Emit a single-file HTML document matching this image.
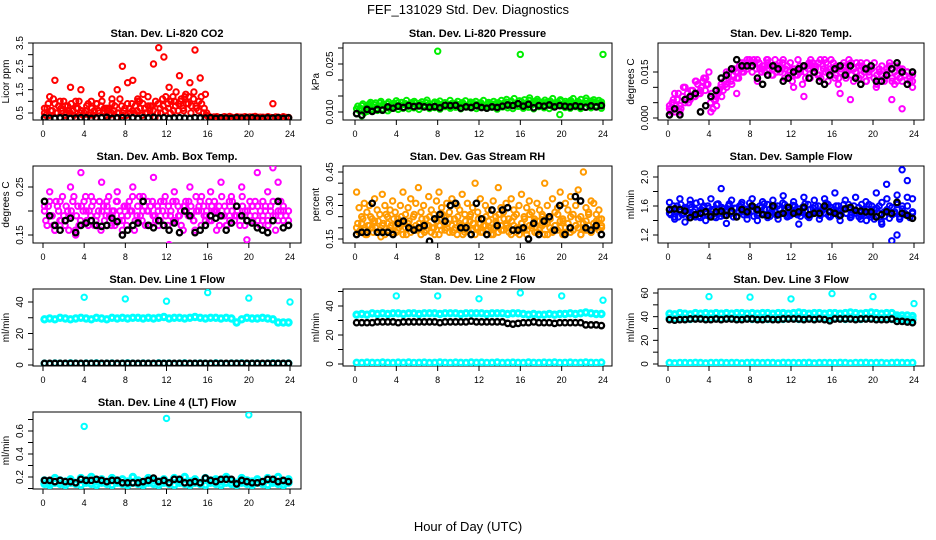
<!DOCTYPE html>
<html><head><meta charset="utf-8"><style>
html,body{margin:0;padding:0;background:#fff;width:936px;height:540px;overflow:hidden}
svg{display:block;font-family:"Liberation Sans",sans-serif}
</style></head><body>
<svg id="chart" width="936" height="540" viewBox="0 0 936 540">
<text x="468" y="14" text-anchor="middle" font-size="13">FEF_131029  Std. Dev. Diagnostics</text>
<text x="468" y="531" text-anchor="middle" font-size="13">Hour of Day (UTC)</text>
</svg>
<script>
// ---------- data ----------
const xTicks = [0,4,8,12,16,20,24];
// CO2
const co2Main = [0.5,0.7,0.4,0.6,0.9,0.5,0.3,0.6,0.4,0.8,0.5,0.6,0.3,0.7,0.5,0.4,0.6,0.9,0.5,0.4,0.3,0.6,0.8,0.5,0.4,0.7,0.5,0.6,0.3,0.5,0.8,0.6,0.4,0.7,0.9,0.5,0.6,1.0,0.4,0.7,0.5,0.6,0.8,0.3,0.5,0.7,1.1,0.6,0.9,0.5,1.2,0.8,0.6,1.0,0.7,1.3,0.9,0.5,1.1,0.8,0.6,1.2,0.5,0.4,0.32,0.3,0.33,0.29,0.31,0.3,0.34,0.32,0.3,0.31,0.29,0.33,0.3,0.32,0.31,0.3,0.33,0.3,0.31,0.29,0.32,0.3,0.31,0.33,0.3,0.29,0.32,0.31,0.3,0.33,0.3,0.31];
const co2Extra = [0.4,0.9,0.6,1.1,0.5,0.8,0.7,1.0,0.5,0.6,0.9,0.4,0.7,1.0,0.6,0.5,0.8,0.4,0.7,0.6,0.9,0.5,1.0,0.7,0.6,0.4,0.9,0.8,0.5,1.1,0.4,0.7,0.9,0.5,0.6,0.8,1.1,0.7,0.9,0.5,1.2,0.8,0.6,1.0,0.9,0.5,0.8,1.2,0.7,1.0,0.6,1.4,0.9,1.1,0.6,0.9,1.2,0.8,1.4,0.7,1.0,0.9,0.7,0.5,0.35,0.3,0.32,0.34,0.3,0.31,0.33,0.3,0.35,0.31,0.3,0.33,0.32,0.3,0.34,0.31,0.3,0.33,0.35,0.3,0.31,0.32,0.3,0.34,0.31,0.3,0.33,0.32,0.3,0.34,0.31,0.3];
const co2Scatter = [0.7,1.2,1.9,1.0,0.8,1.6,1.0,1.5,0.6,1.0,0.9,1.3,0.7,1.1,1.5,2.5,1.8,1.9,1.0,1.3,0.8,2.6,3.3,2.9,1.6,1.0,2.1,1.2,1.8,3.2,2.0,1.3,0.3,0.32,0.3,0.31,0.3,0.33,0.3,0.31,0.3,0.32,0.3,0.31,0.9,0.3,0.32,0.3];
const co2Black = [0.3,0.28,0.27,0.29,0.3,0.27,0.28,0.3,0.29,0.27,0.28,0.3,0.31,0.27,0.29,0.3,0.28,0.3,0.27,0.3,0.29,0.31,0.28,0.3,0.27,0.29,0.3,0.28,0.27,0.3,0.29,0.28,0.3,0.27,0.29,0.28,0.27,0.3,0.28,0.29,0.3,0.28,0.27,0.29,0.28,0.3,0.27,0.29];
// Pressure
const presMain = [0.011,0.0105,0.012,0.0098,0.0115,0.0125,0.0108,0.0122,0.0112,0.0128,0.0105,0.0118,0.0125,0.011,0.0122,0.0115,0.0128,0.012,0.0112,0.0126,0.0118,0.0124,0.0115,0.0128,0.012,0.0125,0.0117,0.0129,0.0122,0.0115,0.0127,0.012,0.0124,0.0118,0.0128,0.0122,0.0116,0.0127,0.012,0.0124,0.0118,0.0129,0.0122,0.0116,0.0126,0.012,0.0125,0.0118,0.0128,0.0122,0.0116,0.0126,0.012,0.0124,0.0118,0.0129,0.0123,0.0117,0.0131,0.012,0.0134,0.0122,0.0128,0.0118,0.0132,0.0124,0.0119,0.0136,0.0122,0.0128,0.0133,0.0118,0.0126,0.0121,0.0131,0.0124,0.0118,0.0128,0.0122,0.0134,0.0119,0.0127,0.0122,0.013,0.0118,0.0126,0.0133,0.0121,0.0128,0.0135,0.0122,0.0127,0.0131,0.012,0.0128,0.0124];
const presExtra = [0.0118,0.0112,0.0125,0.0108,0.0122,0.013,0.0115,0.0128,0.0119,0.0133,0.0124,0.0114,0.0131,0.0121,0.0127,0.0135,0.0117,0.013,0.0124,0.0136,0.0121,0.0129,0.0133,0.0118,0.0127,0.0132,0.0122,0.0137,0.0125,0.0119,0.0131,0.0128,0.0134,0.0121,0.0129,0.0124,0.0136,0.0119,0.0127,0.0133,0.0122,0.0128,0.0135,0.012,0.0131,0.0126,0.0133,0.0122,0.0129,0.0136,0.0121,0.013,0.0125,0.0133,0.0127,0.0121,0.0136,0.0128,0.0139,0.0124,0.0131,0.0142,0.0126,0.0135,0.0121,0.0138,0.0129,0.0144,0.0125,0.0133,0.0139,0.0124,0.0131,0.0137,0.0127,0.0134,0.0142,0.0123,0.013,0.0138,0.0125,0.0133,0.0129,0.0136,0.0142,0.0124,0.0131,0.0139,0.0127,0.0143,0.0125,0.0134,0.0138,0.0129,0.0136,0.0131];
const presLow = [0.0095,0.0088,0.0102,0.0108,0.0105,0.011,0.0104,0.0112,0.0108,0.0115,0.011,0.0113,0.0108,0.0116,0.0111,0.0114,0.0109,0.0117,0.0112,0.0115,0.011,0.0116,0.0113,0.0111,0.0117,0.0112,0.0115,0.0109,0.0116,0.0113,0.0111,0.0118,0.0112,0.0115,0.011,0.0117,0.0113,0.0111,0.0116,0.0092,0.0114,0.0112,0.0117,0.0111,0.0115,0.0113,0.0116,0.0112];
const presOutHours = [8,16,24];
const presOutVals = [0.029,0.028,0.028];
const presBlack = [0.0095,0.009,0.0108,0.0102,0.0108,0.0106,0.0116,0.0112,0.0118,0.0114,0.012,0.0117,0.0119,0.0116,0.0115,0.0117,0.0113,0.0121,0.012,0.0121,0.0112,0.0116,0.0114,0.012,0.0114,0.0112,0.0116,0.0114,0.0118,0.0122,0.012,0.0126,0.0118,0.0124,0.0113,0.012,0.0118,0.0122,0.0116,0.012,0.0118,0.0116,0.0119,0.0117,0.0115,0.0119,0.0116,0.012];
// Li-820 temp
const tempMain = [0.003,0.005,0.002,0.006,0.004,0.007,0.005,0.008,0.006,0.009,0.007,0.011,0.008,0.012,0.009,0.011,0.005,0.003,0.006,0.008,0.01,0.009,0.011,0.013,0.012,0.014,0.015,0.013,0.016,0.015,0.017,0.018,0.017,0.019,0.016,0.018,0.015,0.017,0.019,0.016,0.014,0.017,0.015,0.018,0.016,0.013,0.017,0.015,0.012,0.016,0.014,0.017,0.011,0.015,0.017,0.013,0.018,0.016,0.014,0.019,0.017,0.015,0.012,0.016,0.018,0.014,0.011,0.015,0.017,0.013,0.016,0.018,0.012,0.015,0.017,0.014,0.016,0.012,0.015,0.017,0.013,0.011,0.016,0.014,0.012,0.015,0.017,0.013,0.011,0.014,0.016,0.012,0.014,0.011,0.013,0.012];
const tempExtra = [0.002,0.006,0.004,0.008,0.003,0.01,0.006,0.005,0.009,0.007,0.012,0.008,0.01,0.013,0.011,0.015,0.008,0.006,0.004,0.009,0.007,0.012,0.01,0.015,0.011,0.016,0.013,0.017,0.015,0.018,0.016,0.019,0.015,0.018,0.019,0.016,0.017,0.015,0.018,0.017,0.016,0.019,0.017,0.015,0.018,0.016,0.014,0.018,0.016,0.014,0.019,0.015,0.017,0.013,0.016,0.019,0.015,0.017,0.018,0.013,0.016,0.018,0.015,0.019,0.016,0.017,0.013,0.016,0.018,0.015,0.019,0.014,0.016,0.018,0.013,0.017,0.015,0.018,0.014,0.016,0.018,0.014,0.015,0.017,0.013,0.016,0.018,0.012,0.015,0.017,0.013,0.016,0.014,0.015,0.012,0.014];
const tempScatter = [0.004,0.008,0.002,0.01,0.006,0.012,0.009,0.013,0.002,0.007,0.011,0.015,0.016,0.008,0.018,0.019,0.018,0.012,0.016,0.019,0.014,0.017,0.019,0.013,0.01,0.015,0.007,0.018,0.017,0.014,0.019,0.016,0.013,0.008,0.017,0.006,0.015,0.018,0.012,0.016,0.01,0.014,0.016,0.006,0.012,0.003,0.015,0.01];
const tempBlack = [0.001,0.003,0.001,0.006,0.007,0.008,0.002,0.004,0.007,0.009,0.013,0.014,0.016,0.019,0.017,0.017,0.017,0.013,0.011,0.014,0.017,0.016,0.012,0.013,0.015,0.016,0.017,0.013,0.015,0.012,0.011,0.014,0.016,0.017,0.014,0.017,0.013,0.011,0.016,0.017,0.012,0.012,0.014,0.016,0.018,0.015,0.011,0.015];
// Amb box temp
const ambMain = [0.2,0.17,0.22,0.19,0.16,0.21,0.18,0.23,0.17,0.2,0.19,0.22,0.16,0.21,0.18,0.2,0.23,0.17,0.19,0.22,0.18,0.2,0.16,0.21,0.19,0.23,0.17,0.2,0.22,0.18,0.19,0.21,0.17,0.22,0.2,0.16,0.19,0.23,0.18,0.21,0.2,0.17,0.22,0.19,0.21,0.18,0.2,0.23,0.17,0.19,0.22,0.18,0.21,0.2,0.16,0.22,0.19,0.21,0.18,0.23,0.2,0.17,0.21,0.19,0.22,0.18,0.2,0.16,0.21,0.23,0.19,0.17,0.22,0.2,0.18,0.21,0.19,0.23,0.17,0.2,0.22,0.18,0.19,0.21,0.17,0.22,0.2,0.18,0.21,0.19,0.16,0.2,0.22,0.18,0.19,0.2];
const ambExtra = [0.18,0.21,0.19,0.17,0.22,0.2,0.18,0.19,0.21,0.16,0.2,0.23,0.19,0.17,0.21,0.22,0.18,0.2,0.21,0.17,0.19,0.22,0.2,0.18,0.21,0.19,0.2,0.17,0.22,0.2,0.18,0.21,0.19,0.2,0.23,0.18,0.21,0.19,0.2,0.17,0.22,0.21,0.19,0.18,0.2,0.22,0.17,0.19,0.21,0.2,0.18,0.22,0.19,0.17,0.21,0.2,0.22,0.19,0.18,0.2,0.21,0.23,0.19,0.2,0.18,0.21,0.22,0.2,0.17,0.19,0.21,0.2,0.18,0.22,0.19,0.2,0.17,0.21,0.2,0.18,0.19,0.21,0.22,0.18,0.2,0.19,0.21,0.17,0.2,0.22,0.19,0.18,0.2,0.21,0.19,0.18];
const ambScatter = [0.21,0.24,0.16,0.22,0.18,0.25,0.15,0.28,0.2,0.23,0.17,0.26,0.22,0.19,0.24,0.16,0.21,0.25,0.18,0.23,0.2,0.27,0.17,0.22,0.13,0.24,0.19,0.21,0.25,0.16,0.22,0.18,0.24,0.2,0.26,0.17,0.23,0.19,0.25,0.14,0.21,0.28,0.18,0.24,0.29,0.26,0.2,0.17];
const ambBlack = [0.22,0.19,0.17,0.16,0.18,0.185,0.155,0.17,0.175,0.18,0.17,0.168,0.17,0.185,0.178,0.15,0.16,0.17,0.175,0.22,0.17,0.165,0.18,0.17,0.16,0.175,0.155,0.2,0.19,0.155,0.16,0.17,0.19,0.185,0.19,0.16,0.175,0.21,0.19,0.18,0.175,0.165,0.16,0.155,0.18,0.22,0.165,0.17];
// Gas stream RH
const rhMain = [0.2,0.18,0.22,0.19,0.17,0.21,0.2,0.23,0.18,0.19,0.21,0.17,0.22,0.2,0.18,0.21,0.19,0.23,0.17,0.2,0.22,0.18,0.19,0.21,0.2,0.17,0.22,0.19,0.21,0.18,0.2,0.23,0.17,0.19,0.22,0.2,0.18,0.21,0.19,0.17,0.22,0.2,0.18,0.21,0.23,0.19,0.17,0.2,0.22,0.18,0.21,0.19,0.2,0.17,0.23,0.18,0.21,0.19,0.22,0.2,0.17,0.21,0.18,0.2,0.22,0.19,0.17,0.21,0.2,0.23,0.18,0.19,0.21,0.17,0.22,0.2,0.18,0.21,0.19,0.23,0.17,0.2,0.22,0.18,0.19,0.21,0.2,0.17,0.22,0.19,0.21,0.18,0.2,0.23,0.19,0.2];
const rhExtra = [0.22,0.19,0.24,0.17,0.21,0.25,0.18,0.2,0.23,0.16,0.22,0.26,0.19,0.21,0.24,0.18,0.2,0.25,0.22,0.17,0.23,0.2,0.26,0.19,0.22,0.24,0.18,0.21,0.25,0.2,0.17,0.23,0.21,0.26,0.19,0.22,0.24,0.18,0.2,0.25,0.21,0.17,0.23,0.19,0.26,0.22,0.2,0.24,0.18,0.21,0.25,0.23,0.17,0.2,0.22,0.26,0.19,0.24,0.21,0.18,0.23,0.25,0.2,0.17,0.22,0.24,0.19,0.26,0.21,0.18,0.23,0.2,0.25,0.22,0.17,0.24,0.19,0.21,0.26,0.2,0.23,0.18,0.22,0.25,0.19,0.21,0.24,0.17,0.2,0.23,0.26,0.18,0.22,0.2,0.24,0.21];
const rhScatter = [0.36,0.29,0.25,0.31,0.27,0.3,0.24,0.33,0.28,0.26,0.35,0.3,0.25,0.28,0.32,0.27,0.24,0.3,0.36,0.26,0.29,0.33,0.25,0.31,0.38,0.27,0.3,0.24,0.34,0.28,0.26,0.32,0.36,0.29,0.25,0.31,0.27,0.33,0.24,0.3,0.28,0.35,0.26,0.31,0.25,0.29,0.4,0.27,0.33,0.24,0.3,0.28,0.26,0.32,0.25,0.38,0.29,0.27,0.31,0.24,0.33,0.28,0.26,0.3,0.35,0.25,0.29,0.32,0.27,0.24,0.31,0.28,0.26,0.4,0.3,0.25,0.33,0.27,0.29,0.36,0.24,0.31,0.28,0.34,0.26,0.3,0.37,0.25,0.45,0.29,0.27,0.32,0.31,0.26,0.28,0.24];
const rhBlack = [0.17,0.18,0.18,0.31,0.18,0.18,0.18,0.17,0.22,0.23,0.2,0.19,0.2,0.21,0.14,0.24,0.26,0.23,0.3,0.31,0.2,0.2,0.17,0.31,0.24,0.17,0.28,0.21,0.28,0.29,0.19,0.19,0.2,0.15,0.22,0.17,0.23,0.25,0.19,0.3,0.17,0.2,0.34,0.32,0.2,0.19,0.21,0.17];
// Sample flow
const sfMain = [1.5,1.55,1.45,1.6,1.52,1.48,1.58,1.5,1.62,1.47,1.55,1.5,1.44,1.58,1.52,1.6,1.48,1.55,1.5,1.63,1.46,1.56,1.52,1.6,1.5,1.45,1.57,1.53,1.62,1.48,1.55,1.51,1.6,1.46,1.54,1.5,1.58,1.63,1.48,1.55,1.52,1.6,1.47,1.56,1.5,1.62,1.45,1.55,1.52,1.6,1.48,1.56,1.51,1.63,1.46,1.55,1.5,1.6,1.53,1.47,1.58,1.5,1.62,1.46,1.55,1.52,1.6,1.48,1.56,1.5,1.62,1.45,1.54,1.5,1.58,1.47,1.55,1.4,1.62,1.5,1.55,1.45,1.6,1.35,1.52,1.7,1.43,1.58,1.5,1.75,1.42,1.6,1.48,1.72,1.45,1.5];
const sfExtra = [1.48,1.6,1.53,1.45,1.62,1.5,1.56,1.47,1.58,1.52,1.64,1.46,1.55,1.6,1.49,1.57,1.53,1.45,1.62,1.5,1.58,1.47,1.55,1.63,1.51,1.57,1.46,1.6,1.52,1.56,1.48,1.64,1.53,1.58,1.47,1.6,1.5,1.55,1.62,1.46,1.57,1.52,1.6,1.49,1.64,1.54,1.58,1.47,1.61,1.5,1.56,1.46,1.59,1.53,1.62,1.48,1.57,1.52,1.6,1.5,1.55,1.64,1.47,1.58,1.52,1.6,1.46,1.56,1.62,1.5,1.57,1.48,1.6,1.53,1.45,1.62,1.5,1.56,1.48,1.6,1.42,1.57,1.5,1.65,1.46,1.55,1.6,1.48,1.52,1.62,1.45,1.56,1.5,1.6,1.44,1.52];
const sfScatter = [1.65,1.42,1.7,1.38,1.68,1.45,1.66,1.4,1.7,1.44,1.84,1.36,1.68,1.45,1.65,1.42,1.7,1.4,1.66,1.44,1.68,1.42,1.74,1.46,1.66,1.35,1.72,1.44,1.68,1.42,1.7,1.45,1.78,1.4,1.68,1.44,1.72,1.42,1.66,1.45,1.78,1.38,1.9,1.12,1.2,2.1,1.95,1.7];
const sfBlack = [1.55,1.56,1.55,1.53,1.44,1.48,1.5,1.52,1.45,1.52,1.53,1.47,1.53,1.45,1.55,1.52,1.6,1.55,1.48,1.47,1.6,1.48,1.5,1.58,1.5,1.52,1.58,1.48,1.5,1.5,1.6,1.52,1.5,1.47,1.56,1.58,1.54,1.53,1.52,1.52,1.45,1.48,1.52,1.5,1.65,1.5,1.47,1.43];
// Line flows
const outHours = [4,8,12,16,20,24];
const l1Band = [29,29.5,29,30,29.5,29,29.5,30,29.5,29,30,29.5,29,30,29.5,30,29.5,30,30,29.5,30,29.5,30,30.5,29.5,30,30,29.5,30,30.5,30,29.5,30,30,29.5,30,29.5,27,29,30,29.5,29.5,30,29.5,29,27,27,27];
const l1Floor = [1,0.8,1.1,1,0.9,1.2,1,0.8,1.1,1,1.2,0.9,1,1.1,0.8,1,1.2,1,0.9,1.1,1,0.8,1.2,1,1.1,0.9,1,1.2,0.8,1,1.1,1,0.9,1.2,1,0.8,1.1,1,1.2,0.9,1,1.1,0.8,1,1.2,1,0.9,1.1];
const l1Black = [1,1,1,1,1,1,1,1,1,1,1,1,1,1,1,1,1,1,1,1,1,1,1,1,1,1,1,1,1,1,1,1,1,1,1,1,1,1,1,1,1,1,1,1,1,1,1,1];
const l1Out = [43,42,40.5,46,42.5,40];
const l2Band = [34,34.5,34,35,34.5,35,34.5,35,35,34.5,35,35,34.5,35,35,35,34.5,35,35,35,34.5,35,35,35,35,34.5,35,35,35,34.5,35,35,34.5,34,34.5,34,34,34.5,34,34.5,34.5,35,34.5,35,35.5,35,34.5,34.5];
const l2Black = [28.5,28.5,28.5,28.5,29,29,29,29,28.5,29,29,29,29,29,29,29,28.5,29,29,29,29,29,29.5,29,29,29,29,29,29,28,27.5,28,28.5,28.5,29,28.5,28.5,28.5,28,28.5,28.5,28.5,28.5,28.5,27,27,27,26.5];
const l2Out = [47,47,45,49,47,44];
const l3Hi = [42.5,42,43,42.5,42,43,42.5,43,42.5,43,42.5,43,42.5,43,43,42.5,43,42.5,43,43,42.5,43,43,42.5,43,43.5,43,42.5,43,43,42.5,43,43,42.5,43,43.5,43,42.5,43,43.5,43,42.5,43,43,41,41,41,40.5];
const l3Lo = [38.5,38,38.5,38.5,38,38.5,38.5,38,38.5,38.5,38,38.5,38.5,38,38.5,38.5,38,38.5,38.5,38,38.5,38.5,38,38.5,38.5,38,38.5,38.5,38,38.5,38.5,38,38.5,38.5,38,38.5,38.5,38,38.5,38.5,38,38.5,38.5,38,38.5,38,37.5,37.5];
const l3Black = [37.5,37,37.5,37.5,38,38,38,37.5,37.5,38,37.5,38,38,37.5,37.5,38,38,37.5,37.5,38,37.5,37.5,38,38,38,38,37.5,38,37.5,38,37.5,36.5,38,38,38,38,37.5,38,38,38,37.5,37.5,37.5,38,36,36,35.5,35];
const l3Out = [57,56.5,55,59.5,57,51];
const l4Band = [0.17,0.15,0.19,0.17,0.16,0.18,0.15,0.19,0.17,0.2,0.16,0.18,0.15,0.19,0.17,0.18,0.16,0.2,0.17,0.15,0.19,0.17,0.16,0.18,0.15,0.19,0.17,0.2,0.16,0.18,0.15,0.19,0.17,0.18,0.16,0.2,0.17,0.15,0.19,0.17,0.16,0.18,0.15,0.19,0.17,0.2,0.16,0.18];
const l4Low = [0.14,0.13,0.15,0.14,0.13,0.15,0.14,0.13,0.15,0.14,0.13,0.15,0.14,0.13,0.15,0.14,0.13,0.15,0.14,0.13,0.15,0.14,0.13,0.15,0.14,0.13,0.15,0.14,0.13,0.15,0.14,0.13,0.15,0.14,0.13,0.15,0.14,0.13,0.15,0.14,0.13,0.15,0.14,0.13,0.15,0.14,0.13,0.15];
const l4Black = [0.17,0.17,0.16,0.17,0.16,0.16,0.15,0.18,0.17,0.17,0.18,0.17,0.16,0.17,0.17,0.15,0.15,0.15,0.15,0.16,0.17,0.19,0.16,0.17,0.15,0.18,0.18,0.15,0.15,0.16,0.15,0.19,0.17,0.16,0.18,0.18,0.18,0.14,0.17,0.16,0.15,0.15,0.16,0.18,0.18,0.16,0.17,0.16];
const l4OutHours = [4,12,20];
const l4Out = [0.64,0.71,0.74];

// ---------- drawing ----------
const NS = 'http://www.w3.org/2000/svg';
const svg = document.getElementById('chart');
function mk(tag, attrs, parent){
  const e = document.createElementNS(NS, tag);
  for (const k in attrs) e.setAttribute(k, attrs[k]);
  (parent||svg).appendChild(e);
  return e;
}
const cols = [{l:33,r:301,x0:43,x24:290},{l:343,r:612,x0:355,x24:603},{l:658,r:924,x0:668,x24:914}];
const rows = [{t:43,b:120},{t:166,b:243},{t:289,b:366},{t:412,b:489}];

function panel(cfg){
  const c = cols[cfg.col], r = rows[cfg.row];
  const g = mk('g', {});
  
  
  const xs = h => c.x0 + (h/24)*(c.x24 - c.x0);
  const ys = v => cfg.p1 + (v - cfg.v1)*(cfg.p2 - cfg.p1)/(cfg.v2 - cfg.v1);
  const t = mk('text', {x:(c.l+c.r)/2, y:r.t-6, 'text-anchor':'middle', 'font-size':'11', 'font-weight':'bold'}, g);
  t.textContent = cfg.title;
  
  
  const box = mk('rect', {x:c.l, y:r.t, width:c.r-c.l, height:r.b-r.t, fill:'none', stroke:'#000', 'stroke-width':1}, g);
  
  
  xTicks.forEach(h => {
    const x = xs(h);
    mk('line', {x1:x, x2:x, y1:r.b, y2:r.b+5, stroke:'#000'}, g);
    const lb = mk('text', {x:x, y:r.b+17, 'text-anchor':'middle', 'font-size':'9'}, g);
    lb.textContent = h;
    
    
  });
  cfg.ticks.forEach(v => {
    const y = ys(v);
    mk('line', {x1:c.l-5, x2:c.l, y1:y, y2:y, stroke:'#000'}, g);
  });
  cfg.labels.forEach(s => {
    const y = ys(parseFloat(s));
    const lb = mk('text', {x:c.l-10, y:y, 'text-anchor':'middle', 'font-size':'10', transform:`rotate(-90 ${c.l-10} ${y})`}, g);
    lb.textContent = s;
    
    
  });
  const yl = mk('text', {x:c.l-24, y:(r.t+r.b)/2, 'text-anchor':'middle', 'font-size':'10', transform:`rotate(-90 ${c.l-24} ${(r.t+r.b)/2})`}, g);
  yl.textContent = cfg.ylab;
  
  
  const cid = 'clip' + cfg.name;
  const cp = mk('clipPath', {id:cid}, g);
  mk('rect', {x:c.l, y:r.t, width:c.r-c.l, height:r.b-r.t}, cp);
  const pg = mk('g', {'clip-path':`url(#${cid})`}, g);
  function pt(h, v, color, sw){
    const p = mk('circle', {cx:xs(h).toFixed(1), cy:ys(v).toFixed(1), r:2.7, fill:'none', stroke:color, 'stroke-width':sw||2}, pg);
    
    
  }
  cfg.series.forEach(s => {
    if (s.hours) s.vals.forEach((v,i) => pt(s.hours[i], v, s.color, s.sw));
    else { const n = s.vals.length; const off = s.off||0; s.vals.forEach((v,i) => pt(0.15 + off + i*(23.7-off)/(n-1), v, s.color, s.sw)); }
  });
}
const RED='#ff0000', GRN='#00ee00', MAG='#ff00ff', BLU='#0000ff', CYN='#00ffff', ORA='#ff9a00', BLK='#000';
panel({name:'panel-co2', col:0,row:0,title:'Stan. Dev. Li-820 CO2',ylab:'Licor ppm',v1:0.5,p1:113,v2:3.5,p2:43,
  ticks:[0.5,1,1.5,2,2.5,3,3.5],labels:['0.5','1.5','2.5','3.5'],
  series:[{vals:co2Main,color:RED},{vals:co2Extra,color:RED,off:0.12},{vals:co2Scatter,color:RED},{vals:co2Black,color:BLK,sw:2.3}]});
panel({name:'panel-pressure', col:1,row:0,title:'Stan. Dev. Li-820 Pressure',ylab:'kPa',v1:0.010,p1:112,v2:0.025,p2:64,
  ticks:[0.010,0.015,0.020,0.025,0.030],labels:['0.010','0.025'],
  series:[{vals:presMain,color:GRN},{vals:presExtra,color:GRN,off:0.12},{vals:presLow,color:GRN},{vals:presOutVals,hours:presOutHours,color:GRN},{vals:presBlack,color:BLK,sw:2.3}]});
panel({name:'panel-li820-temp', col:2,row:0,title:'Stan. Dev. Li-820 Temp.',ylab:'degrees C',v1:0,p1:118,v2:0.015,p2:72,
  ticks:[0,0.005,0.01,0.015],labels:['0.000','0.015'],
  series:[{vals:tempMain,color:MAG},{vals:tempExtra,color:MAG,off:0.12},{vals:tempScatter,color:MAG},{vals:tempBlack,color:BLK,sw:2.3}]});
panel({name:'panel-amb-temp', col:0,row:1,title:'Stan. Dev. Amb. Box Temp.',ylab:'degrees C',v1:0.15,p1:235,v2:0.25,p2:187,
  ticks:[0.15,0.2,0.25],labels:['0.15','0.25'],
  series:[{vals:ambMain,color:MAG},{vals:ambExtra,color:MAG,off:0.12},{vals:ambScatter,color:MAG},{vals:ambBlack,color:BLK,sw:2.3}]});
panel({name:'panel-rh', col:1,row:1,title:'Stan. Dev. Gas Stream RH',ylab:'percent',v1:0.15,p1:239,v2:0.45,p2:172,
  ticks:[0.15,0.2,0.25,0.3,0.35,0.4,0.45],labels:['0.15','0.30','0.45'],
  series:[{vals:rhMain,color:ORA},{vals:rhExtra,color:ORA,off:0.12},{vals:rhScatter,color:ORA},{vals:rhBlack,color:BLK,sw:2.3}]});
panel({name:'panel-sample-flow', col:2,row:1,title:'Stan. Dev. Sample Flow',ylab:'ml/min',v1:1.2,p1:235,v2:2.0,p2:177,
  ticks:[1.2,1.4,1.6,1.8,2.0],labels:['1.2','1.6','2.0'],
  series:[{vals:sfMain,color:BLU},{vals:sfExtra,color:BLU,off:0.12},{vals:sfScatter,color:BLU},{vals:sfBlack,color:BLK,sw:2.3}]});
panel({name:'panel-line1', col:0,row:2,title:'Stan. Dev. Line 1 Flow',ylab:'ml/min',v1:0,p1:365,v2:40,p2:302,
  ticks:[0,10,20,30,40],labels:['0','20','40'],
  series:[{vals:l1Band,color:CYN,sw:3},{vals:l1Floor,color:CYN,sw:2.6},{vals:l1Out,hours:outHours,color:CYN},{vals:l1Black,color:BLK,sw:2.3}]});
panel({name:'panel-line2', col:1,row:2,title:'Stan. Dev. Line 2 Flow',ylab:'ml/min',v1:0,p1:364,v2:40,p2:306,
  ticks:[0,10,20,30,40,50],labels:['0','20','40'],
  series:[{vals:l2Band,color:CYN,sw:3},{vals:l1Floor,color:CYN,sw:2.6},{vals:l2Out,hours:outHours,color:CYN},{vals:l2Black,color:BLK,sw:2.3}]});
panel({name:'panel-line3', col:2,row:2,title:'Stan. Dev. Line 3 Flow',ylab:'ml/min',v1:0,p1:364,v2:60,p2:293,
  ticks:[0,10,20,30,40,50,60],labels:['0','20','40','60'],
  series:[{vals:l3Hi,color:CYN,sw:3},{vals:l3Lo,color:CYN,sw:3},{vals:l1Floor,color:CYN,sw:2.6},{vals:l3Out,hours:outHours,color:CYN},{vals:l3Black,color:BLK,sw:2.3}]});
panel({name:'panel-line4', col:0,row:3,title:'Stan. Dev. Line 4 (LT) Flow',ylab:'ml/min',v1:0.2,p1:477,v2:0.6,p2:431,
  ticks:[0.1,0.2,0.3,0.4,0.5,0.6,0.7],labels:['0.2','0.4','0.6'],
  series:[{vals:l4Band,color:CYN,sw:3},{vals:l4Low,color:CYN,sw:3},{vals:l4Out,hours:l4OutHours,color:CYN},{vals:l4Black,color:BLK,sw:2.3}]});
</script>
</body></html>
